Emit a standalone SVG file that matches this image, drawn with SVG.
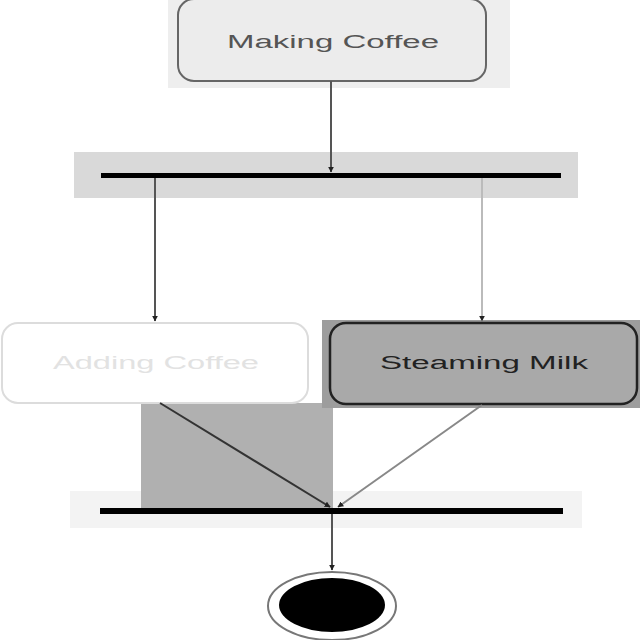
<svg xmlns="http://www.w3.org/2000/svg" width="640" height="640" viewBox="0 0 640 640">
<style>
.lbl{font-family:"Liberation Sans",Arial,sans-serif;font-size:18px;text-anchor:middle}
.bar{fill:#000}
.edge{fill:none;stroke-width:2}
</style>
<defs>
<marker id="ah" viewBox="0 0 10 10" refX="9" refY="5" markerWidth="6" markerHeight="6" orient="auto" markerUnits="userSpaceOnUse">
<path d="M0,0 L10,5 L0,10 z" fill="#222"/>
</marker>
</defs>
<rect width="640" height="640" fill="#fff"/>
<!-- highlight backgrounds -->
<rect x="168" y="0" width="342" height="88" fill="#eeeeee"/>
<rect x="74" y="152" width="504" height="46" fill="#d9d9d9"/>
<rect x="70" y="491" width="512" height="37" fill="#f3f3f3"/>
<rect x="141" y="403" width="192" height="105" fill="#b0b0b0"/>
<rect x="322" y="320" width="318" height="88" fill="#9d9d9d"/>

<g id="making-coffee">
<rect x="178" y="-1" width="308" height="82" rx="16" fill="#ececec" stroke="#666" stroke-width="2"/>
<text class="lbl" x="333" y="48" fill="#555" textLength="212" lengthAdjust="spacingAndGlyphs">Making Coffee</text>
</g>
<g id="fork">
<rect class="bar" x="101" y="173" width="460" height="5"/>
</g>
<g id="adding-coffee">
<rect x="2" y="323" width="306" height="80" rx="16" fill="#fff" stroke="#dcdcdc" stroke-width="2"/>
<text class="lbl" x="156" y="369" fill="#e2e2e2" textLength="206" lengthAdjust="spacingAndGlyphs">Adding Coffee</text>
</g>
<g id="steaming-milk">
<rect x="330" y="323" width="307" height="81" rx="16" fill="#a9a9a9" stroke="#222" stroke-width="2.5"/>
<text class="lbl" x="484" y="369" fill="#222" textLength="208" lengthAdjust="spacingAndGlyphs">Steaming Milk</text>
</g>
<g id="join">
<rect class="bar" x="100" y="508" width="463" height="6"/>
</g>
<g id="final">
<ellipse cx="332" cy="606" rx="64" ry="34" fill="#fff" stroke="#777" stroke-width="2"/>
<ellipse cx="332" cy="605" rx="53" ry="27" fill="#000"/>
</g>
<g id="connectors">
<line class="edge" x1="331" y1="81" x2="331" y2="172" stroke="#555" marker-end="url(#ah)"/>
<line class="edge" x1="155" y1="178" x2="155" y2="321" stroke="#555" marker-end="url(#ah)"/>
<line class="edge" x1="482" y1="178" x2="482" y2="321" stroke="#bbb" marker-end="url(#ah)"/>
<line class="edge" x1="160" y1="403" x2="330" y2="507" stroke="#333" marker-end="url(#ah)"/>
<line class="edge" x1="482" y1="405" x2="338" y2="507" stroke="#888" marker-end="url(#ah)"/>
<line class="edge" x1="332" y1="514" x2="332" y2="570" stroke="#555" marker-end="url(#ah)"/>
</g>
</svg>
